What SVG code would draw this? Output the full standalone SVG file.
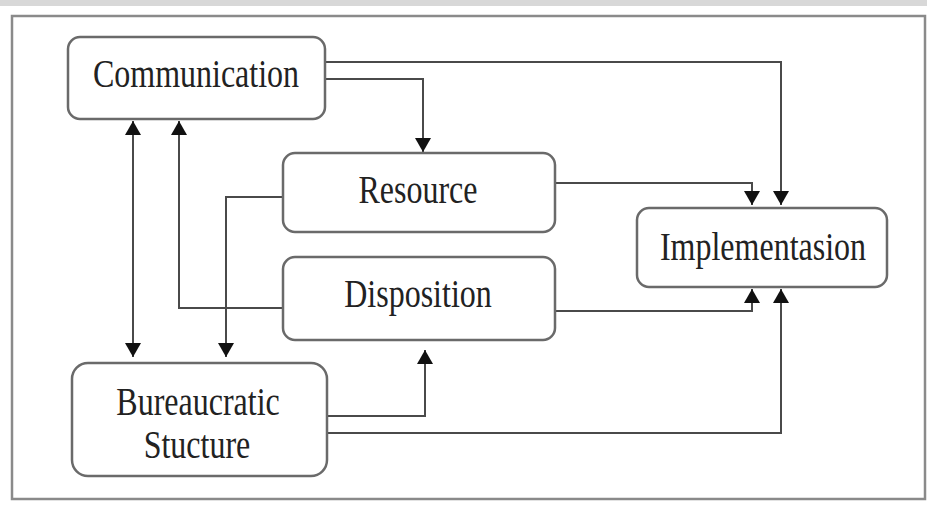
<svg xmlns="http://www.w3.org/2000/svg" width="927" height="512" viewBox="0 0 927 512">
<defs>
<style>
.box{fill:#fff;stroke:#6a6a6a;stroke-width:2.5}
.lbl{font-family:"Liberation Serif","Times New Roman",serif;font-size:32px;fill:#222;text-anchor:middle}
.con{fill:none;stroke:#4a4a4a;stroke-width:2}
</style>
<marker id="ah" viewBox="0 0 14 16" refX="14" refY="8" markerWidth="14" markerHeight="16" markerUnits="userSpaceOnUse" orient="auto-start-reverse">
<path d="M0,0 L14,8 L0,16 Z" fill="#111"/>
</marker>
</defs>
<rect x="0" y="0" width="927" height="512" fill="#fff"/>
<rect x="0" y="0" width="927" height="6" fill="#d8d8d8"/>
<rect x="12" y="16" width="913" height="483" fill="none" stroke="#8a8a8a" stroke-width="2.5"/>

<g id="connectors">
<path class="con" d="M325,62 H781 V205" marker-end="url(#ah)"/>
<path class="con" d="M325,79 H423 V152" marker-end="url(#ah)"/>
<path class="con" d="M555,183 H752 V205" marker-end="url(#ah)"/>
<path class="con" d="M555,311 H752 V289" marker-end="url(#ah)"/>
<path class="con" d="M327,433 H781 V289" marker-end="url(#ah)"/>
<path class="con" d="M327,416 H425 V350" marker-end="url(#ah)"/>
<path class="con" d="M133,121 V357" marker-start="url(#ah)" marker-end="url(#ah)"/>
<path class="con" d="M283,308 H179 V121" marker-end="url(#ah)"/>
<path class="con" d="M283,197 H226 V357" marker-end="url(#ah)"/>
</g>

<g id="communication">
<rect class="box" x="68" y="37" width="257" height="82" rx="12"/>
<text class="lbl" transform="translate(196,87) scale(1,1.22)">Communication</text>
</g>
<g id="resource">
<rect class="box" x="283" y="153" width="272" height="79" rx="12"/>
<text class="lbl" transform="translate(418,203) scale(1,1.22)">Resource</text>
</g>
<g id="disposition">
<rect class="box" x="283" y="257" width="272" height="83" rx="12"/>
<text class="lbl" transform="translate(418,307) scale(1,1.22)">Disposition</text>
</g>
<g id="implementasion">
<rect class="box" x="637" y="208" width="250" height="79" rx="12"/>
<text class="lbl" transform="translate(763,260) scale(1,1.22)">Implementasion</text>
</g>
<g id="bureaucratic">
<rect class="box" x="72" y="363" width="255" height="113" rx="16"/>
<text class="lbl" transform="translate(198,415) scale(1,1.22)">Bureaucratic</text>
<text class="lbl" transform="translate(197,458) scale(1,1.22)">Stucture</text>
</g>
</svg>
